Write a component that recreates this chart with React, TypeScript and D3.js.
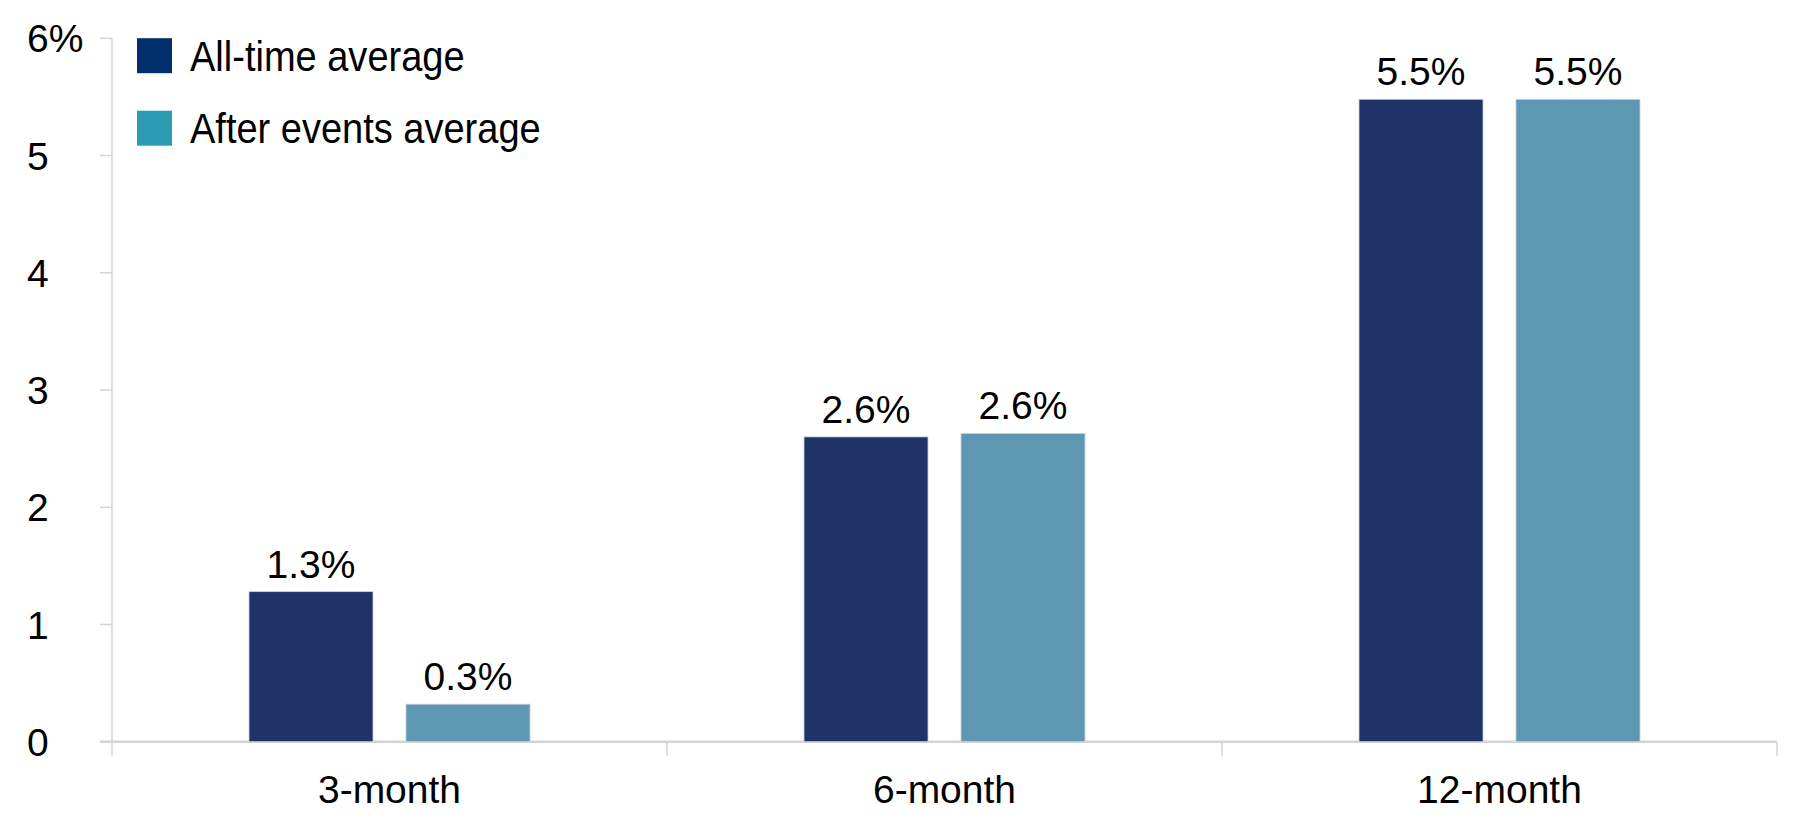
import React from "react";
import * as d3 from "d3";

const categories = ["3-month", "6-month", "12-month"];
const seriesNames = ["All-time average", "After events average"];
const allTimeValues = [1.28, 2.6, 5.48];
const afterEventsValues = [0.32, 2.63, 5.48];
const yTicks = [0, 1, 2, 3, 4, 5, 6];
const barColors = ["#1f3368", "#5e97b2"];
const legendColors = ["#002f6c", "#2b9bb3"];

const W = 1797;
const H = 828;
const left = 112;
const right = 1777;
const baseY = 741.7;
const topY = 38.3;

const FONT = "'Liberation Sans', Arial, sans-serif";

export default function App() {
  const x0 = d3.scaleBand<string>().domain(categories).range([left, right]).padding(0);
  const x1 = d3
    .scaleBand<string>()
    .domain(seriesNames)
    .range([0, x0.bandwidth()])
    .paddingInner(0.21)
    .paddingOuter(0.8726);
  const y = d3.scaleLinear().domain([0, 6]).range([baseY, topY]);
  const series = [allTimeValues, afterEventsValues];
  const gridColor = "#d4d4d4";

  return (
    <svg
      width={W}
      height={H}
      style={{ position: "absolute", left: 0, top: 0, background: "#fff" }}
    >
      {/* y axis */}
      <line x1={left} x2={left} y1={y(6)} y2={baseY} stroke={gridColor} strokeWidth={1.5} />
      {yTicks.map((t) => (
        <g key={t}>
          <line x1={left - 12} x2={left} y1={y(t)} y2={y(t)} stroke={gridColor} strokeWidth={1.5} />
          <text x={27} y={y(t)} dy="0.36em" fontFamily={FONT} fontSize={39} fill="#000">
            {t === 6 ? "6%" : String(t)}
          </text>
        </g>
      ))}
      {/* x axis */}
      <line x1={left - 12} x2={right} y1={baseY} y2={baseY} stroke={gridColor} strokeWidth={2.5} />
      {[...categories.map((c) => x0(c) as number), right].map((xv, i) => (
        <line key={i} x1={xv} x2={xv} y1={baseY} y2={baseY + 14} stroke={gridColor} strokeWidth={1.5} />
      ))}
      {categories.map((c) => (
        <text
          key={c}
          x={(x0(c) as number) + x0.bandwidth() / 2}
          y={803}
          textAnchor="middle"
          fontFamily={FONT}
          fontSize={39}
          fill="#000"
        >
          {c}
        </text>
      ))}
      {/* bars */}
      {categories.map((c, ci) => (
        <g key={c} transform={`translate(${x0(c)},0)`}>
          {seriesNames.map((s, si) => {
            const v = series[si][ci];
            const bx = x1(s) as number;
            return (
              <g key={s}>
                <rect
                  x={bx}
                  y={y(v)}
                  width={x1.bandwidth()}
                  height={baseY - y(v)}
                  fill={barColors[si]}
                  stroke="#c9d6e3"
                  strokeWidth={0.8}
                />
                <text
                  x={bx + x1.bandwidth() / 2}
                  y={y(v) - 14}
                  textAnchor="middle"
                  fontFamily={FONT}
                  fontSize={39}
                  fill="#000"
                >
                  {v.toFixed(1) + "%"}
                </text>
              </g>
            );
          })}
        </g>
      ))}
      {/* legend */}
      {seriesNames.map((s, i) => {
        const cy = 55.7 + i * 72.5;
        return (
          <g key={s}>
            <rect x={137} y={cy - 17.5} width={35} height={35} fill={legendColors[i]} />
            <text
              transform={`translate(190,${cy + 15}) scale(0.905,1)`}
              fontFamily={FONT}
              fontSize={42}
              fill="#000"
            >
              {s}
            </text>
          </g>
        );
      })}
    </svg>
  );
}
